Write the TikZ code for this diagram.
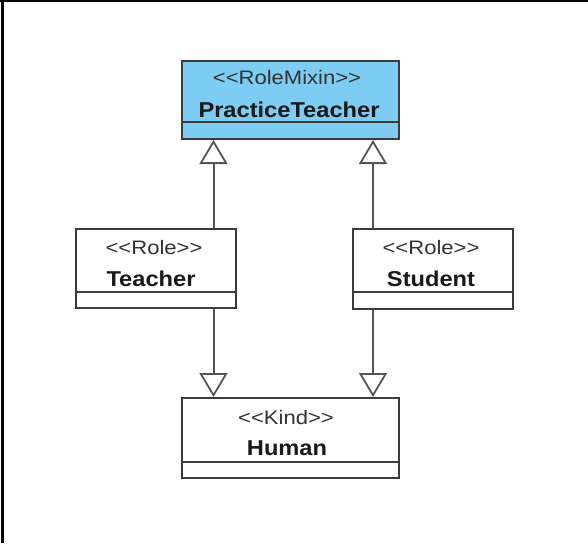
\documentclass[tikz,border=0pt]{standalone}
\usepackage{fontspec}
\setmainfont{Liberation Sans}
\usetikzlibrary{arrows.meta}
\definecolor{mixinblue}{RGB}{125,204,243}
\definecolor{boxline}{RGB}{60,60,60}
\definecolor{linkline}{RGB}{85,85,85}
\definecolor{stereo}{RGB}{50,50,50}
\tikzset{
  classbox/.style={draw=boxline, line width=2pt, rectangle, inner sep=0pt},
  stereotext/.style={font=\fontsize{19.5}{19.5}\selectfont, text=stereo, inner sep=0pt},
  nametext/.style={font=\fontsize{21.5}{21.5}\selectfont\bfseries, text=black!90, inner sep=0pt},
  compline/.style={draw=boxline, line width=2pt},
  generalize/.style={draw=linkline, line width=2pt,
    -{Triangle[open, width=28pt, length=24pt, line width=1.8pt]}},
}
% stereotype brackets kept as two separate angle characters
\newcommand{\stlt}{<{}<}
\newcommand{\stgt}{>{}>}
\begin{document}
\begin{tikzpicture}[x=1pt, y=-1pt]
\useasboundingbox (0,0) rectangle (588,543);
% frame edges
\draw[line width=2pt] (0,1) -- (588,1);
\draw[line width=3pt] (2,0) -- (2,543);

% classes
\node[classbox, fill=mixinblue, minimum width=217pt, minimum height=78pt] (pt) at (290.5,100) {};
\node[classbox, minimum width=160pt, minimum height=79pt] (teacher) at (156,268.5) {};
\node[classbox, minimum width=160pt, minimum height=80pt] (student) at (433,269) {};
\node[classbox, minimum width=217pt, minimum height=80pt] (human) at (290.5,438) {};

% attribute compartments
\draw[compline] (pt.west |- 0,122) -- (pt.east |- 0,122);
\draw[compline] (teacher.west |- 0,292) -- (teacher.east |- 0,292);
\draw[compline] (student.west |- 0,292) -- (student.east |- 0,292);
\draw[compline] (human.west |- 0,462) -- (human.east |- 0,462);

% labels
\node[stereotext] (ptst) at (287,78) {\scalebox{1.13}[1]{\stlt RoleMixin\stgt}};
\node[nametext] (ptnm) at (289,110) {\scalebox{1.1}[1]{PracticeTeacher}};
\node[stereotext] (tst) at (154,248) {\scalebox{1.13}[1]{\stlt Role\stgt}};
\node[nametext] (tnm) at (151,279) {\scalebox{1.1}[1]{Teacher}};
\node[stereotext] (sst) at (431,248) {\scalebox{1.13}[1]{\stlt Role\stgt}};
\node[nametext] (snm) at (431,279) {\scalebox{1.1}[1]{Student}};
\node[stereotext] (hst) at (286,418) {\scalebox{1.13}[1]{\stlt Kind\stgt}};
\node[nametext] (hnm) at (287,448) {\scalebox{1.1}[1]{Human}};

% connector columns
\coordinate (colL) at (213.5,0);
\coordinate (colR) at (373,0);

% generalizations
\draw[generalize] (teacher.north -| colL) -- (pt.south -| colL);
\draw[generalize] (student.north -| colR) -- (pt.south -| colR);
\draw[generalize] (teacher.south -| colL) -- (human.north -| colL);
\draw[generalize] (student.south -| colR) -- (human.north -| colR);
\end{tikzpicture}
\end{document}
